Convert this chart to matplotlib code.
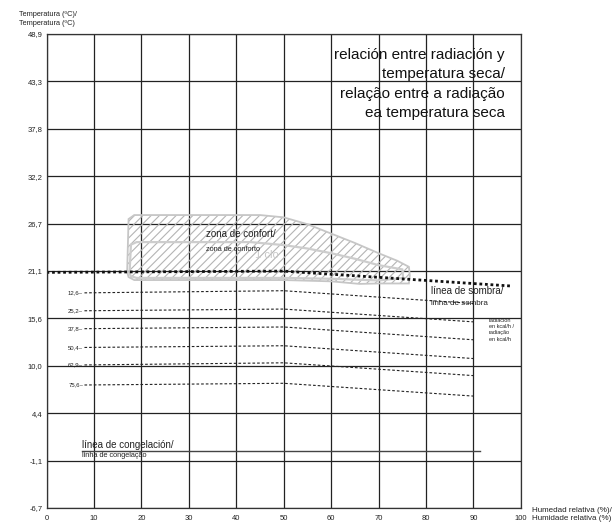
import numpy as np
import matplotlib.pyplot as plt
from matplotlib.patches import Polygon

plt.rcParams['font.family'] = ['Liberation Sans', 'DejaVu Sans']
plt.rcParams['hatch.linewidth'] = 0.8

# eje Y: grados F cada 10 convertidos a C
y_ticks = [-6.67, -1.11, 4.44, 10.0, 15.56, 21.11, 26.67, 32.22, 37.78, 43.33, 48.89]
y_labels = ['-6,7', '-1,1', '4,4', '10,0', '15,6', '21,1', '26,7', '32,2', '37,8', '43,3', '48,9']
x_ticks = [0, 10, 20, 30, 40, 50, 60, 70, 80, 90, 100]

# lineas de radiacion (kcal/h)
rad_labels = ['12,6', '25,2', '37,8', '50,4', '62,9', '75,6']
rad_x = [8, 50, 90]
rad_y = [
    [18.55, 18.8, 17.3],
    [16.45, 16.65, 15.15],
    [14.35, 14.55, 13.05],
    [12.15, 12.35, 10.85],
    [10.1, 10.35, 8.85],
    [7.75, 7.95, 6.45],
]

# linea de sombra
shade_x = [0, 50, 98]
shade_y = [20.95, 21.1, 19.35]

# linea de congelacion
freeze_x = [7.5, 91.5]
freeze_y = [0.0, 0.0]

# zona de confort (contorno exterior)
outer_x = [17.0, 17.3, 18.5, 30, 45, 50, 55, 60, 65, 70, 74, 76.4, 76.6, 76.4, 70, 66, 60, 50, 30, 18.5, 17.3]
outer_y = [21.0, 27.2, 27.67, 27.67, 27.67, 27.4, 26.6, 25.5, 24.4, 23.2, 22.3, 21.6, 20.6, 19.65, 19.65, 19.6, 19.9, 20.05, 20.05, 20.05, 20.4]
# 1 clo
inner_x = [17.5, 17.8, 19, 30, 43, 50, 55, 60, 65, 70, 73, 75, 75.2, 70, 60, 50, 30, 19, 17.8]
inner_y = [20.8, 24.2, 24.5, 24.5, 24.5, 24.15, 23.75, 23.2, 22.55, 21.8, 21.5, 21.3, 20.3, 20.0, 20.2, 20.3, 20.3, 20.3, 20.5]

# titulo (lineas y linea base)
title_lines = ['relación entre radiación y', 'temperatura seca/',
               'relação entre a radiação', 'ea temperatura seca']
title_base = [45.92, 43.70, 41.35, 39.13]

fig = plt.figure(figsize=(6.12, 5.24), dpi=100)
ax = fig.add_axes([0.076, 0.0305, 0.775, 0.9046])

ax.set_xlim(0, 100)
ax.set_ylim(y_ticks[0], y_ticks[-1])
ax.set_xticks(x_ticks)
ax.set_yticks(y_ticks)
ax.set_yticklabels(y_labels)
ax.tick_params(length=0, labelsize=5.5, colors='#222222')
ax.tick_params(axis='x', pad=5)
ax.tick_params(axis='y', pad=3)
ax.grid(True, color='#222222', linewidth=0.9)
ax.set_axisbelow(True)
for sp in ax.spines.values():
    sp.set_color('#333333')
    sp.set_linewidth(0.9)

# zona de confort
outer = np.column_stack([outer_x, outer_y])
inner = np.column_stack([inner_x, inner_y])
ax.add_patch(Polygon(outer, closed=True, facecolor='none', edgecolor='#b4b4b4', hatch='////', lw=0))
ax.add_patch(Polygon(outer, closed=True, facecolor='none', edgecolor='#c6c6c6', lw=1.3))
ax.add_patch(Polygon(inner, closed=True, facecolor='none', edgecolor='#cdcdcd', lw=1.6))

for lab, yy in zip(rad_labels, rad_y):
    ax.plot(rad_x, yy, color='#222222', lw=0.8, dashes=(2.4, 1.8))
    ax.text(rad_x[0] - 0.3, yy[0], lab + '\u2013', fontsize=4.3, ha='right', va='center', color='#222222')

ax.plot(shade_x, shade_y, color='#111111', lw=2, dashes=(1, 1))
ax.plot(freeze_x, freeze_y, color='#444444', lw=1)

ax.text(44, 22.6, '1 clo', fontsize=8, color='#c8c8c8')
ax.text(33.7, 25.1, 'zona de confort/', fontsize=7, color='#222222')
ax.text(33.7, 23.5, 'zona de conforto', fontsize=5.3, color='#222222')
ax.text(81, 18.45, 'línea de sombra/', fontsize=7, color='#222222')
ax.text(81, 17.1, 'linha de sombra', fontsize=5.8, color='#222222')
ax.text(93.3, 15.6, 'radiación\nen kcal/h /\nradiação\nen kcal/h', fontsize=4.0,
        va='top', linespacing=1.3, color='#222222')
ax.text(7.5, 0.35, 'línea de congelación/', fontsize=7, color='#222222')
ax.text(7.5, -0.7, 'linha de congelação', fontsize=5.3, color='#222222')

for line, yb in zip(title_lines, title_base):
    ax.text(96.6, yb, line, fontsize=11, ha='right', va='baseline', color='#111111')

fig.text(19 / 612, 1 - 19 / 524, 'Temperatura (ºC)/\nTemperatura (ºC)', fontsize=5.3,
         va='center', ha='left', linespacing=1.3, color='#222222')
fig.text(532 / 612, 1 - 514 / 524, 'Humedad relativa (%)/\nHumidade relativa (%)', fontsize=5.8,
         va='center', ha='left', linespacing=1.2, color='#222222')

fig.savefig('out.png', dpi=100)
